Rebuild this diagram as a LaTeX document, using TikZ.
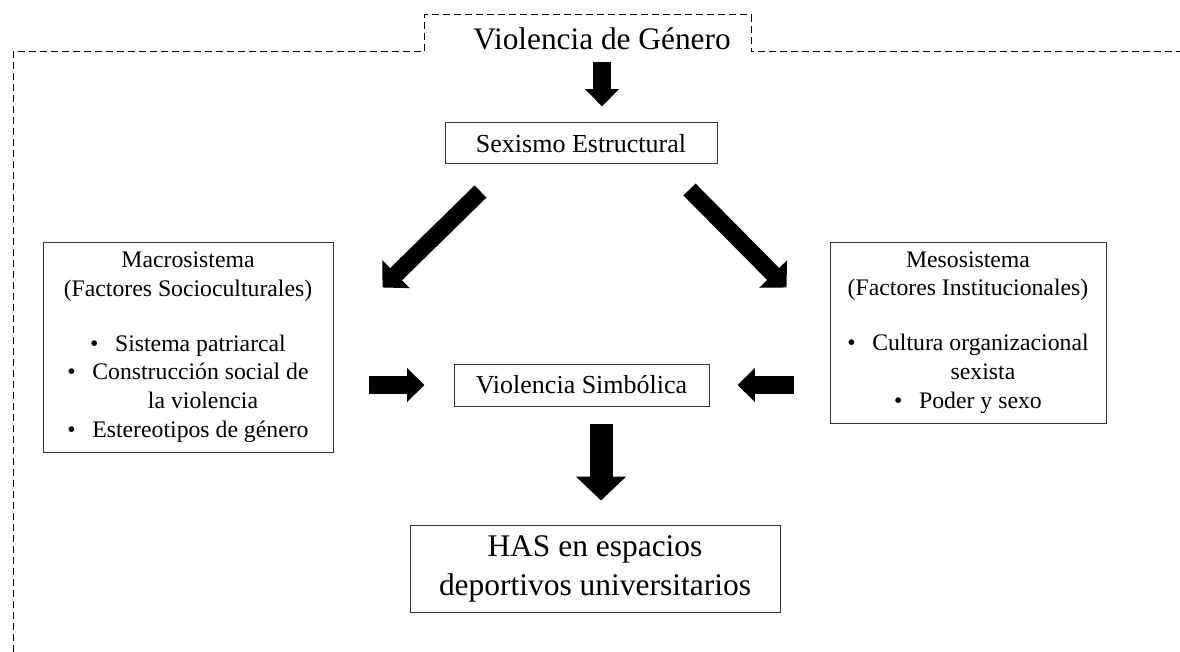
\documentclass[tikz,border=0pt]{standalone}
\usepackage{fontspec}
\setmainfont{Liberation Serif}
\usetikzlibrary{arrows.meta,calc}
\tikzset{>=latex}
\newcommand{\itm}{\textbullet\hspace{0.7em}}

\begin{document}
\begin{tikzpicture}[x=0.75pt,y=-0.75pt,align=center]
\tikzstyle{obj} = [rectangle,draw=black!80,line width=0.75pt,inner sep=0pt,font=\fontsize{19.5pt}{23pt}\selectfont]
\tikzstyle{sysobj} = [obj,font=\fontsize{17.8pt}{21.5pt}\selectfont]
\tikzstyle{blk} = [line width=14pt,-{Triangle[length=13pt,width=24.5pt]}]
\tikzstyle{blkdiag} = [line width=12.75pt,-{Triangle[length=14.25pt,width=28.5pt]}]
\tikzstyle{blkbig} = [line width=17.25pt,-{Triangle[length=18pt,width=36.75pt]}]
\useasboundingbox (0,0) rectangle (1180,652);
\draw[dash pattern=on 5.25pt off 3pt,line width=0.75pt] (13,652) -- (13,52) -- (424,52) -- (424,15) -- (751,15) -- (751,52) -- (1180,52);
\node[anchor=base,font=\fontsize{23.5pt}{28pt}\selectfont] (vg) at (602,50) {Violencia de Género};
\node[obj,minimum width=204pt,minimum height=30.75pt] (sex) at (581,143.5) {Sexismo Estructural};
\node[sysobj,minimum width=217.5pt,minimum height=157.5pt] (macro) at (188,347) {Macrosistema\\(Factores Socioculturales)\\[19.75pt] \itm Sistema patriarcal\\ \itm Construcción social de\\ \hspace*{22.5pt}la violencia\\ \itm Estereotipos de género};
\node[sysobj,minimum width=207pt,minimum height=135.75pt] (meso) at (968,332.5) {Mesosistema\\(Factores Institucionales)\\[19.75pt] \itm Cultura organizacional\\ \hspace*{22.5pt}sexista\\ \itm Poder y sexo};
\node[obj,minimum width=191.25pt,minimum height=31.5pt] (simb) at (581.5,385) {Violencia Simbólica};
\node[obj,minimum width=277.5pt,minimum height=65.25pt,font=\fontsize{23.6pt}{29.25pt}\selectfont] (has) at (595,568.5) {HAS en espacios\\deportivos universitarios};
\draw[blk] ($(vg.base)+(0,12)$) -- ($(vg.base |- sex.north)+(0,-16)$);
\draw[blkdiag] ($(sex.south west)+(36,27)$) -- ($(macro.north east)+(49,46)$);
\draw[blkdiag] ($(sex.south east)+(-28,25)$) -- ($(meso.north west)+(-43,46)$);
\draw[blk] ($(macro.east |- simb.west)+(35,0)$) -- ($(simb.west)+(-29,0)$);
\draw[blk] ($(meso.west |- simb.east)+(-36,0)$) -- ($(simb.east)+(28,0)$);
\draw[blkbig] ($(simb.south)+(19.5,17)$) -- ($(simb.south |- has.north)+(19.5,-24)$);
\end{tikzpicture}
\end{document}
